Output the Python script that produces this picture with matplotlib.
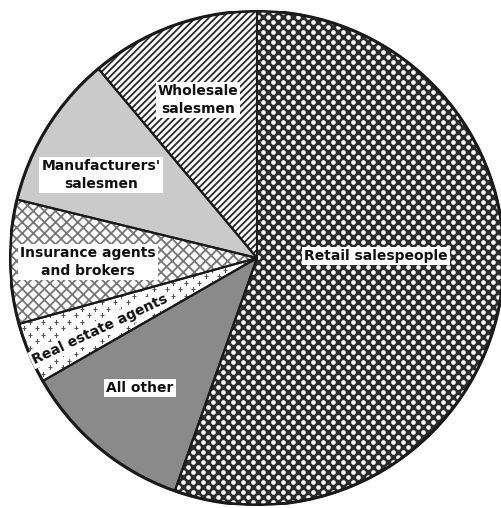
import matplotlib.pyplot as plt
import numpy as np

# slice shares (percent), clockwise from 12 o'clock
labels = ["Retail salespeople", "All other", "Real estate agents",
          "Insurance agents\nand brokers", "Manufacturers'\nsalesmen", "Wholesale\nsalesmen"]
shares = [55.4, 11.3, 4.0, 8.1, 10.1, 11.1]

faces = ["#2b2b2b", "#8a8a8a", "white", "white", "#cacaca", "white"]
hatches = [None, None, None, "xxx", None, "/////"]
hatch_cols = ["#2b2b2b", "#8a8a8a", "white", "#777777", "#cacaca", "#2a2a2a"]

# label placement in pixels (center x, center y, rotation)
label_pos = [(376, 256, 0), (140, 388, 0), (100, 329, 25),
             (88, 262, 0), (101, 175, 0), (198, 100, 0)]

W, H = 501, 508
cx, cy, R = 257, 258, 247

plt.rcParams['hatch.linewidth'] = 1.3
fig = plt.figure(figsize=(W / 100, H / 100), dpi=100)
ax = fig.add_axes([(cx - R) / W, (H - cy - R) / H, 2 * R / W, 2 * R / H])

wedges, _ = ax.pie(shares, startangle=90, counterclock=False, radius=1,
                   colors=faces, wedgeprops=dict(linewidth=0))
for w, h, hc in zip(wedges, hatches, hatch_cols):
    w.set_edgecolor(hc)
    if h:
        w.set_hatch(h)

# white dot screen for retail slice
step = 10.0 / R
ky = np.arange(-1.05, 1.05, step / 2)
xs, ys = [], []
for k, yv in enumerate(ky):
    row = np.arange(-1.05, 1.05, step) + (k % 2) * step / 2
    xs.extend(row)
    ys.extend([yv] * len(row))
dots = ax.scatter(xs, ys, s=11, color="white", linewidths=0, zorder=2)
dots.set_clip_path(wedges[0])

# little plus signs for the real estate slice
pstep = 13.0 / R
gy = np.arange(-0.6, 0.1, pstep / 2)
px_, py_ = [], []
for k, yv in enumerate(gy):
    row = np.arange(-1.05, 0.0, pstep) + (k % 2) * pstep / 2
    px_.extend(row)
    py_.extend([yv] * len(row))
pts = ax.scatter(px_, py_, marker="+", s=9, color="#555555", linewidths=0.8, zorder=2)
pts.set_clip_path(wedges[2])

# outlines on top
outl, _ = ax.pie(shares, startangle=90, counterclock=False, radius=1,
                 wedgeprops=dict(facecolor="none", edgecolor="#1a1a1a", linewidth=1.5, zorder=3))
ax.add_patch(plt.Circle((0, 0), 1, fill=False, edgecolor="#1a1a1a", linewidth=2.2, zorder=3))

for lab, (px, py, rot) in zip(labels, label_pos):
    ax.text((px - cx) / R, (cy - py) / R, lab, ha="center", va="center",
            rotation=rot, fontsize=10, fontweight="bold", family="DejaVu Sans",
            color="#111111", linespacing=1.3, zorder=4,
            bbox=dict(boxstyle="square,pad=0.15", facecolor="white", edgecolor="none"))

ax.set_xlim(-1, 1)
ax.set_ylim(-1, 1)
ax.set_aspect("equal")
ax.axis("off")

fig.savefig("out.png", dpi=100)
